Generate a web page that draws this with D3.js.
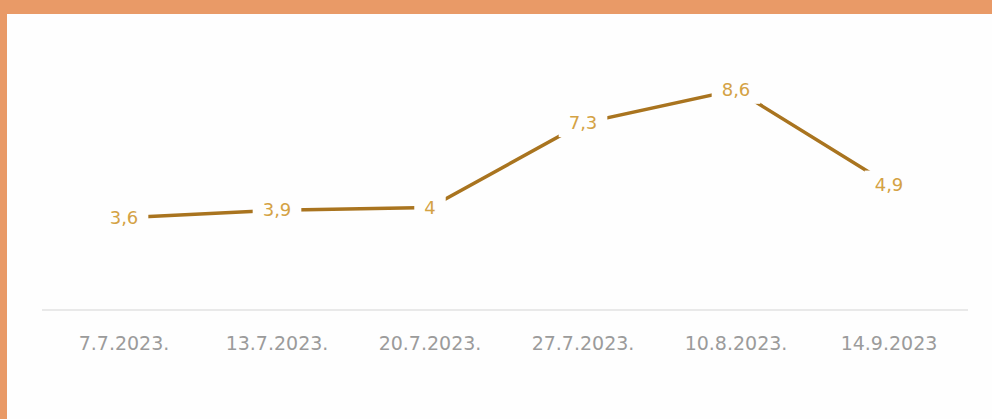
<!DOCTYPE html>
<html>
<head>
<meta charset="utf-8">
<script src="https://cdn.jsdelivr.net/npm/d3@7"></script>
<style>
    body { margin: 0; background: #e99a67; }
    #chart { width: 992px; height: 419px; }
</style>
</head>
<body>
<div id="chart"></div>
<script>
// dates and values
const dates = ['7.7.2023.', '13.7.2023.', '20.7.2023.', '27.7.2023.', '10.8.2023.', '14.9.2023'];
const values = [3.6, 3.9, 4, 7.3, 8.6, 4.9];
const valueLabels = ['3,6', '3,9', '4', '7,3', '8,6', '4,9'];

let width = 992;
let height = 419;

let svg = d3.select('#chart')
    .append('svg')
    .attr('width', width)
    .attr('height', height);

// orange frame, white panel
svg.append('rect')
    .attr('width', width)
    .attr('height', height)
    .attr('fill', '#e99a67');
svg.append('rect')
    .attr('x', 7)
    .attr('y', 14)
    .attr('width', width - 7)
    .attr('height', height - 14)
    .attr('fill', '#fefefe');

const x = d3.scaleBand()
    .domain(dates)
    .range([47.5, 965.5]);

const y = d3.scaleLinear()
    .domain([0, 10])
    .range([310, 54]);

const data = dates.map((d, i) => ({ date: d, value: values[i], label: valueLabels[i] }));

// axis baseline
svg.append('line')
    .attr('x1', 42)
    .attr('x2', 968)
    .attr('y1', y(0))
    .attr('y2', y(0))
    .style('stroke', '#e2e2e2')
    .style('stroke-width', 1.5);

// category labels
const xAxis = svg.append('g')
    .attr('transform', `translate(0,${y(0)})`)
    .call(d3.axisBottom(x).tickSize(0).tickPadding(27));
xAxis.select('.domain').remove();
xAxis.selectAll('text')
    .style('font-family', '"DejaVu Sans", sans-serif')
    .style('font-size', '19px')
    .style('fill', '#9b9b9b');

// line
const line = d3.line()
    .x(d => x(d.date) + x.bandwidth() / 2)
    .y(d => y(d.value));

svg.append('path')
    .datum(data)
    .attr('d', line)
    .style('fill', 'none')
    .style('stroke', '#a9741f')
    .style('stroke-width', 3.5);

// labels sit on the points, with a white patch under each
let labels = svg.selectAll('g.lbl')
    .data(data)
    .join('g')
    .attr('class', 'lbl')
    .attr('transform', d => `translate(${x(d.date) + x.bandwidth() / 2},${y(d.value)})`);

let patches = labels.append('rect')
    .attr('y', -14)
    .attr('height', 28)
    .attr('fill', '#fefefe');

labels.append('text')
    .attr('text-anchor', 'middle')
    .attr('dy', '0.35em')
    .style('font-family', '"DejaVu Sans", sans-serif')
    .style('font-size', '18px')
    .style('fill', '#d4a244')
    .text(d => d.label)
    .each(function(d) { d.w = this.getComputedTextLength(); });

patches
    .attr('x', d => -(d.w / 2 + 10))
    .attr('width', d => d.w + 20);
</script>
</body>
</html>
